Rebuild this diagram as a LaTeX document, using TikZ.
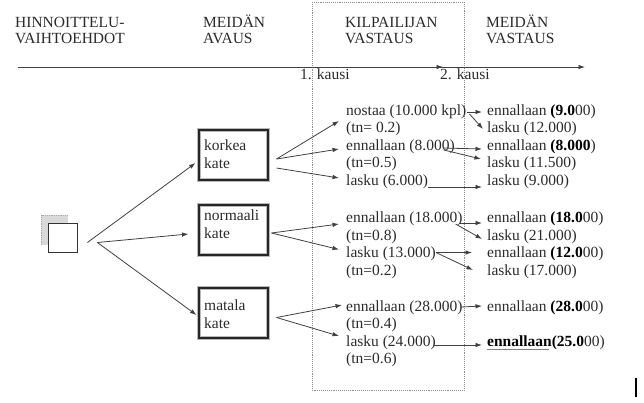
\documentclass[tikz,border=0pt]{standalone}
\usepackage{fontspec}
\setmainfont{Liberation Serif}
\usetikzlibrary{arrows.meta,calc}
\definecolor{ink}{gray}{0.17}
\definecolor{lin}{gray}{0.25}
\definecolor{dotc}{gray}{0.55}
\definecolor{spell}{RGB}{90,130,220}
\tikzset{
 txt/.style={anchor=base west, inner sep=0pt, text=ink, font=\fontsize{15.5}{17.5}\selectfont},
 arr/.style={draw=lin, line width=0.8pt, -{Latex[length=6.5pt,width=4.5pt]}},
 kbox/.style={draw=black!85, line width=2pt, minimum width=69pt, minimum height=50pt, inner sep=0pt, preaction={draw=gray!55, line width=4pt}},
}
\newcommand{\bb}[1]{\textcolor{black}{\textbf{#1}}}
\begin{document}
\begin{tikzpicture}[x=1pt,y=-1pt]
\useasboundingbox (0,0) rectangle (644,402);
% headers
\node[txt] (h1) at (15,27) {HINNOITTELU-};
\node[txt] (h2) at (15,43) {VAIHTOEHDOT};
\node[txt] (h3) at (203,27) {MEIDÄN};
\node[txt] (h4) at (203,43) {AVAUS};
\node[txt] (h5) at (345,27) {KILPAILIJAN};
\node[txt] (h6) at (345,43) {VASTAUS};
\node[txt] (h7) at (486,27) {MEIDÄN};
\node[txt] (h8) at (486,43) {VASTAUS};
% dotted frame
\draw[dotc, densely dotted, line width=0.9pt] (312,2) rectangle (464,390);
% timeline
\coordinate (tl0) at (18,67);
\coordinate (tlm) at (443,67);
\coordinate (tl1) at (585,67);
\draw[arr] (tl0) -- (tl1);
\draw[arr] (tl0) -- (tlm);
\node[txt] (p1) at (300,79) {1. kausi};
\node[txt] (p2) at (440,79) {2. kausi};
% root icon
\fill[gray!30] (41,215) rectangle (68,245);
\draw[gray!65, line width=0.8pt, densely dotted] (41,245) -- (41,215) -- (68,215);
\node[draw=black!80, fill=white, line width=0.8pt, minimum size=29pt, inner sep=0pt] (root) at (62.5,237.5) {};
% boxes
\node[kbox] (kb) at (233,155) {};
\node[kbox] (nb) at (233,230) {};
\node[kbox] (mb) at (233,312.5) {};
\node[txt] (kt1) at (204,150.5) {korkea};
\node[txt] (kt2) at (204,168) {kate};
\node[txt] (nt1) at (204,220) {normaali};
\node[txt] (nt2) at (204,238) {kate};
\node[txt] (mt1) at (204,310.5) {matala};
\node[txt] (mt2) at (204,328) {kate};
% competitor column
\node[txt] (k1) at (346,115) {nostaa (10.000 kpl)};
\node[txt] (k2) at (346,132) {(tn= 0.2)};
\node[txt] (k3) at (346,150) {ennallaan (8.000)};
\node[txt] (k4) at (346,167) {(tn=0.5)};
\node[txt] (k5) at (346,185) {lasku (6.000)};
\node[txt] (m1) at (346,222) {ennallaan (18.000)};
\node[txt] (m2) at (346,240) {(tn=0.8)};
\node[txt] (m3) at (346,257.5) {lasku (13.000)};
\node[txt] (m4) at (346,275) {(tn=0.2)};
\node[txt] (b1) at (346,311) {ennallaan (28.000)};
\node[txt] (b2) at (346,328) {(tn=0.4)};
\node[txt] (b3) at (346,346) {lasku (24.000)};
\node[txt] (b4) at (346,363) {(tn=0.6)};
% our response column
\node[txt] (r1) at (487,115) {ennallaan \bb{(9.0}00)};
\node[txt] (r2) at (487,132) {lasku (12.000)};
\node[txt] (r3) at (487,150) {ennallaan \bb{(8.000})};
\node[txt] (r4) at (487,167) {lasku (11.500)};
\node[txt] (r5) at (487,185) {lasku (9.000)};
\node[txt] (s1) at (487,222) {ennallaan \bb{(18.0}00)};
\node[txt] (s2) at (487,240) {lasku (21.000)};
\node[txt] (s3) at (487,257.5) {ennallaan \bb{(12.0}00)};
\node[txt] (s4) at (487,275) {lasku (17.000)};
\node[txt] (t1) at (487,311) {ennallaan \bb{(28.0}00)};
\node[txt] (t2) at (487,346) {\bb{ennallaan(25.0}00)};
\draw[spell, line width=1.2pt] ($(t2.base west)+(0,3.5)$) -- ++(62,0);
% root arrows
\draw[arr] ($(root.east)+(10,5)$) -- ($(kb.west)+(-2,8)$);
\draw[arr] ($(root.east)+(20,5)$) -- ($(nb.west)+(-9,4)$);
\draw[arr] ($(root.east)+(20,5)$) -- ($(mb.west)+(-1,2.5)$);
% box arrows
\draw[arr] ($(kb.east)+(8,4)$) -- ($(k1.base west)+(-7,6)$);
\draw[arr] ($(kb.east)+(8,4)$) -- ($(k3.base west)+(-7,-1)$);
\draw[arr] ($(kb.east)+(8,13)$) -- ($(k5.base west)+(-7,-7)$);
\draw[arr] ($(nb.east)+(3,3)$) -- ($(m1.base west)+(-7,2)$);
\draw[arr] ($(nb.east)+(3,3)$) -- ($(m3.base west)+(-7,-8)$);
\draw[arr] ($(mb.east)+(8,5)$) -- ($(b1.base west)+(-4,-6)$);
\draw[arr] ($(mb.east)+(8,5)$) -- ($(b3.base west)+(-7,-10)$);
% response arrows
\draw[arr] ($(k1.base east)+(0,-3)$) -- ($(r1.base west)+(-5,-3)$);
\draw[arr] ($(k1.base east)+(3,-1)$) -- ($(r2.base west)+(-4,-3)$);
\draw[arr] ($(k3.base east)+(-11,-2)$) -- ($(r3.base west)+(-5,-1)$);
\draw[arr] ($(k3.base east)+(-11,0)$) -- ($(r4.base west)+(-6,-8)$);
\draw[arr] ($(k5.base east)+(0,2)$) -- ($(r5.base west)+(-5,2)$);
\draw[arr] ($(m1.base east)+(-4,1)$) -- ($(s1.base west)+(-5,1)$);
\draw[arr] ($(m1.base east)+(-7,2)$) -- ($(s2.base west)+(-5,-1)$);
\draw[arr] ($(m3.base east)+(0,-5)$) -- ($(s3.base west)+(-15,-5)$);
\draw[arr] ($(m3.base east)+(0,-5)$) -- ($(s4.base west)+(-14,-5)$);
\draw[arr] ($(b1.base east)+(-2,-4)$) -- ($(t1.base west)+(-5,-5)$);
\draw[arr] ($(b3.base east)+(-2,-1)$) -- ($(t2.base west)+(-5,-1)$);
% stray mark
\draw[black, line width=1.5pt] (636,378) -- (636,397);
\end{tikzpicture}
\end{document}
